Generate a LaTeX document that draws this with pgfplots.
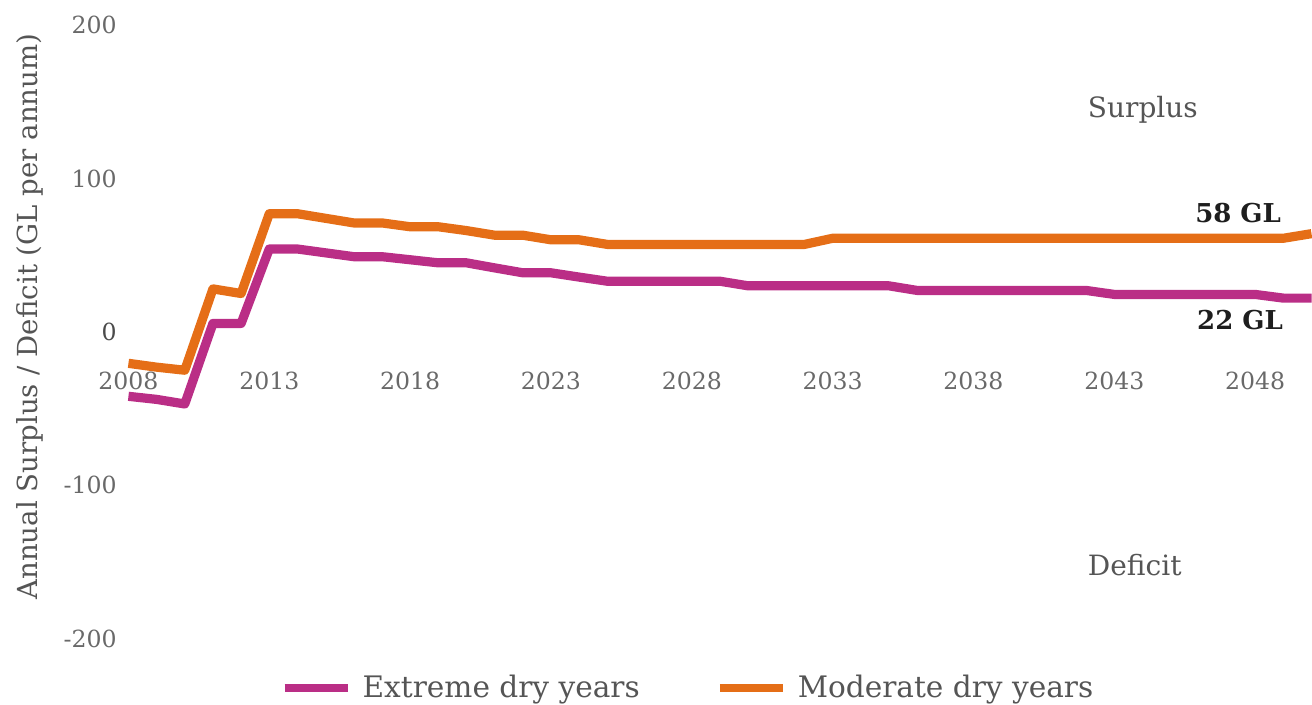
\documentclass[border=0pt]{standalone}
\usepackage{pgfplots}
\usepackage{pgfplotstable}
\pgfplotsset{compat=1.18}
\usepackage{fontspec}
\setmainfont{DejaVu Serif}

\definecolor{moderate}{RGB}{229,110,23}
\definecolor{extreme}{RGB}{186,46,134}
\definecolor{ticktext}{RGB}{105,105,105}
\definecolor{labeltext}{RGB}{85,85,85}
\definecolor{valuetext}{RGB}{30,30,30}

% Annual surplus (+) / deficit (-) in GL per annum
\pgfplotstableread{
year extreme moderate
2008 -42   -20.5
2009 -44   -23
2010 -47   -25
2011 5.5   28
2012 5.5   25
2013 54    77
2014 54    77
2015 51.5  74
2016 49    71
2017 49    71
2018 47    68.5
2019 45    68.5
2020 45    66
2021 41.7  63
2022 38.5  63
2023 38.5  60
2024 35.7  60
2025 33    57
2026 33    57
2027 33    57
2028 33    57
2029 33    57
2030 30    57
2031 30    57
2032 30    57
2033 30    61
2034 30    61
2035 30    61
2036 27    61
2037 27    61
2038 27    61
2039 27    61
2040 27    61
2041 27    61
2042 27    61
2043 24.4  61
2044 24.4  61
2045 24.4  61
2046 24.4  61
2047 24.4  61
2048 24.4  61
2049 22    61
2050 22    64
}\datatable

\begin{document}
\begin{tikzpicture}
% overall canvas: axis box is 591.75pt x 307pt, placed at the origin
\useasboundingbox (-64.25pt,-33pt) rectangle (592pt,319.5pt);
\begin{axis}[
  at={(0,0)}, anchor=south west,
  scale only axis,
  width=591.75pt, height=307pt,
  xmin=2008, xmax=2050,
  ymin=-200, ymax=200,
  axis x line*=middle,
  axis y line*=left,
  axis line style={draw=none},
  major tick length=0pt,
  hide obscured x ticks=false,
  hide obscured y ticks=false,
  xtick={2008,2013,2018,2023,2028,2033,2038,2043,2048},
  xticklabels={2008,2013,2018,2023,2028,2033,2038,2043,2048},
  ytick={-200,-100,0,100,200},
  yticklabels={-200,-100,\textcolor{valuetext!80}{0},100,200},
  tick label style={font=\fontsize{11.8}{13}\selectfont, text=ticktext, inner sep=0pt},
  xticklabel style={anchor=center, yshift=-24.6pt},
  yticklabel style={anchor=east, xshift=-5.75pt},
  ylabel={Annual Surplus / Deficit (GL per annum)},
  ylabel style={at={(rel axis cs:-0.0832,0.525)}, anchor=center,
    font=\fontsize{13.8}{16}\selectfont, text=labeltext},
  clip=false,
  legend columns=2,
  legend style={at={(rel axis cs:0.4738,-0.0798)}, anchor=center,
    draw=none, fill=none, font=\fontsize{14.8}{17}\selectfont,
    text=labeltext,
    /tikz/every odd column/.append style={column sep=3.5pt},
    /tikz/every even column/.append style={column sep=36pt}},
  legend image code/.code={\draw[#1, line width=4pt] (0pt,0pt) -- (31.5pt,0pt);},
  every axis plot/.append style={line width=4.6pt, line join=round},
]
\addplot[extreme] table[x=year, y=extreme] {\datatable};
\addlegendentry{Extreme dry years}
\addplot[moderate] table[x=year, y=moderate] {\datatable};
\addlegendentry{Moderate dry years}

\node[anchor=west, font=\fontsize{14}{16}\selectfont, text=labeltext, inner sep=0pt]
  at (axis cs:2042.05,144.6) {Surplus};
\node[anchor=west, font=\fontsize{14}{16}\selectfont, text=labeltext, inner sep=0pt]
  at (axis cs:2042.05,-152.2) {Deficit};
\node[anchor=east, font=\bfseries\fontsize{13}{15}\selectfont, text=valuetext, inner sep=0pt]
  at (axis cs:2048.93,77.4) {58 GL};
\node[anchor=east, font=\bfseries\fontsize{13}{15}\selectfont, text=valuetext, inner sep=0pt]
  at (axis cs:2049.0,7.6) {22 GL};
\end{axis}
\end{tikzpicture}
\end{document}
